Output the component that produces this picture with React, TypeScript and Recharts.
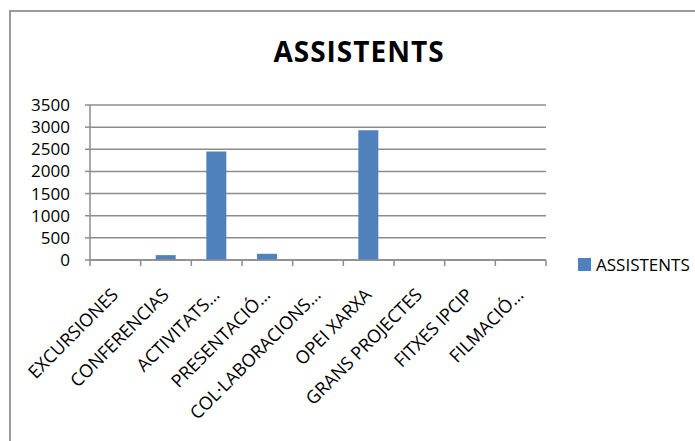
import { Bar, BarChart, CartesianGrid, Legend, XAxis, YAxis } from "recharts";

const categories = [
  "EXCURSIONES",
  "CONFERENCIAS",
  "ACTIVITATS…",
  "PRESENTACIÓ…",
  "COL·LABORACIONS…",
  "OPEI XARXA",
  "GRANS PROJECTES",
  "FITXES IPCIP",
  "FILMACIÓ…",
];
const assistents = [0, 110, 2450, 140, 0, 2930, 0, 0, 0];
const yTicks = [0, 500, 1000, 1500, 2000, 2500, 3000, 3500];
const seriesName = "ASSISTENTS";
const chartTitle = "ASSISTENTS";

const data = categories.map((name, i) => ({ name, value: assistents[i] }));

const W = 695;
const H = 441;
const PLOT_LEFT = 90;
const PLOT_RIGHT = 546;
const PLOT_TOP = 105;
const PLOT_BOTTOM = 260;
const BAND = (PLOT_RIGHT - PLOT_LEFT) / categories.length;
const GRID = "#8c8c8c";
const BLUE = "#4f81bd";
const FONT = "'Open Sans', sans-serif";

function CategoryTick(props: any) {
  const { x, y, payload, index } = props;
  const left = x - BAND / 2;
  const right = x + BAND / 2;
  const ax = x + 4;
  const ay = y + 36;
  return (
    <g>
      <line x1={left} y1={y} x2={left} y2={y + 6} stroke={GRID} strokeWidth={1.5} />
      {index === categories.length - 1 && (
        <line x1={right} y1={y} x2={right} y2={y + 6} stroke={GRID} strokeWidth={1.5} />
      )}
      <text
        x={ax}
        y={ay}
        textAnchor="end"
        fontSize={18}
        fontFamily={FONT}
        fill="#000"
        transform={`rotate(-45, ${ax}, ${ay})`}
      >
        {payload.value}
      </text>
    </g>
  );
}

function LegendContent() {
  return (
    <div style={{ display: "flex", alignItems: "center", whiteSpace: "nowrap", fontFamily: FONT, fontSize: 17 }}>
      <span
        style={{ display: "inline-block", flexShrink: 0, width: 13, height: 13, background: BLUE, marginRight: 5 }}
      />
      <span style={{ color: "#000", lineHeight: "17px", flexShrink: 0 }}>{seriesName}</span>
    </div>
  );
}

export default function App() {
  return (
    <div style={{ position: "absolute", left: 0, top: 0, width: W, height: H, background: "#fff", overflow: "hidden" }}>
      <div
        style={{
          position: "absolute",
          left: 9,
          top: 10,
          width: W,
          height: H,
          borderTop: "2px solid #9a9a9a",
          borderLeft: "2px solid #9a9a9a",
        }}
      />
      <div
        style={{
          position: "absolute",
          left: 0,
          top: 37,
          width: 718,
          textAlign: "center",
          fontFamily: FONT,
          fontWeight: 700,
          fontSize: 28,
          lineHeight: "28px",
          letterSpacing: 1,
          color: "#000",
        }}
      >
        {chartTitle}
      </div>
      <BarChart
        width={W}
        height={H}
        data={data}
        margin={{ top: PLOT_TOP, right: W - PLOT_RIGHT, bottom: 0, left: 0 }}
        style={{ position: "absolute", left: 0, top: 0 }}
      >
        <CartesianGrid vertical={false} stroke={GRID} strokeWidth={1.5} />
        <XAxis
          dataKey="name"
          height={H - PLOT_BOTTOM}
          interval={0}
          tickLine={false}
          tickSize={0}
          tickMargin={0}
          axisLine={{ stroke: GRID, strokeWidth: 1.5 }}
          tick={<CategoryTick />}
        />
        <YAxis
          width={PLOT_LEFT}
          domain={[0, 3500]}
          ticks={yTicks}
          interval={0}
          tickSize={5}
          tickMargin={15}
          tickLine={{ stroke: GRID, strokeWidth: 1.5 }}
          axisLine={{ stroke: GRID, strokeWidth: 1.5 }}
          tick={{ fill: "#000", fontSize: 17, fontFamily: FONT }}
        />
        <Legend
          content={<LegendContent />}
          wrapperStyle={{ left: 578, top: 256, width: 0, height: 0, overflow: "visible" }}
        />
        <Bar dataKey="value" name={seriesName} fill={BLUE} barSize={20} isAnimationActive={false} />
      </BarChart>
    </div>
  );
}
